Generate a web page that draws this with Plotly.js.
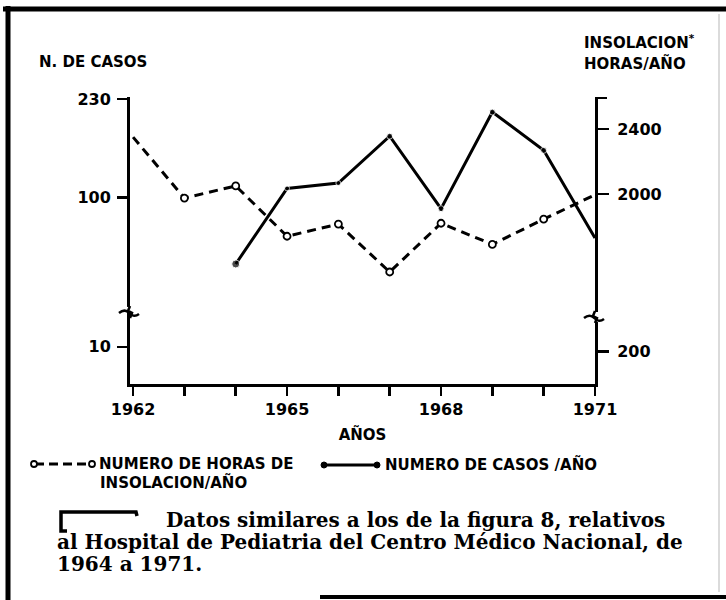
<!DOCTYPE html>
<html>
<head>
<meta charset="utf-8">
<script src="https://cdn.plot.ly/plotly-3.0.1.min.js"></script>
<style>
  html, body { margin: 0; padding: 0; background: #ffffff; }
  #chart { width: 726px; height: 600px; }
</style>
</head>
<body>
<div id="chart"></div>
<script>
// ---- data ----
const years = [1962, 1963, 1964, 1965, 1966, 1967, 1968, 1969, 1970, 1971];
// Número de horas de insolación / año (right axis)
const horasInsolacion = [2350, 1975, 2050, 1740, 1815, 1520, 1820, 1690, 1845, 1995];
// Número de casos / año (left axis, log scale), 1964-1971
const numeroCasos = [null, null, 57, 108, 113, 168, 91, 206, 149, 71];

const xTickYears = [1962, 1965, 1968, 1971];
const xTickLabels = ['1962', '1965', '1968', '1971'];
const leftTickLabels = ['10', '100', '230'];
const rightTickLabels = ['200', '2000', '2400'];

const titleLeft = 'N. DE CASOS';
const titleRight1 = 'INSOLACION<sup>*</sup>';
const titleRight2 = 'HORAS/AÑO';
const titleX = 'AÑOS';
const legendHoras1 = 'NUMERO DE HORAS DE';
const legendHoras2 = 'INSOLACION/AÑO';
const legendCasos = 'NUMERO DE CASOS /AÑO';
const caption = [
  'Datos similares a los de la figura 8, relativos',
  'al Hospital de Pediatria del Centro Médico Nacional, de',
  '1964 a 1971.'
];

// ---- layout helpers (pixel -> paper) ----
const L = 130, R = 595, T = 97, B = 384;
const px = x => (x - L) / (R - L);
const py = y => (B - y) / (B - T);

const sans = 'DejaVu Sans, Liberation Sans, sans-serif';
const serif = 'DejaVu Serif, Liberation Serif, serif';
const lblFont = { family: sans, size: 15, color: '#000', weight: 'bold' };
const tickFont = { family: sans, size: 16, color: '#000', weight: 'bold' };
const capFont = { family: serif, size: 20, color: '#000', weight: 'bold' };

const traceHoras = {
  x: years, y: horasInsolacion, yaxis: 'y2',
  type: 'scatter', mode: 'lines+markers', name: legendHoras1,
  line: { color: '#000', width: 3, dash: '9px,6px' },
  marker: { symbol: 'circle', size: [0, 7, 7, 7, 7, 7, 7, 7, 7, 0], color: '#ffffff',
            opacity: 1, line: { color: '#000', width: 1.8 } },
  cliponaxis: false, showlegend: false
};
const traceCasos = {
  x: years, y: numeroCasos, yaxis: 'y',
  type: 'scatter', mode: 'lines+markers', name: legendCasos,
  line: { color: '#000', width: 3 },
  marker: { symbol: 'circle', size: [0, 0, 8, 5, 5, 6, 6, 6, 6, 0], color: '#000' },
  connectgaps: false, cliponaxis: false, showlegend: false
};

function brk(xp, yval, yref) {
  return [
    { type: 'rect', xref: 'paper', yref: yref, xsizemode: 'pixel', ysizemode: 'pixel',
      xanchor: xp, yanchor: yval, x0: -4, x1: 4, y0: -5, y1: 5,
      fillcolor: '#fff', line: { width: 0 }, layer: 'above' },
    { type: 'path', xref: 'paper', yref: yref, xsizemode: 'pixel', ysizemode: 'pixel',
      xanchor: xp, yanchor: yval,
      path: 'M -11 -1 Q -6 3 -2 0 L 2 -3 Q 5 -5 9 -2',
      line: { color: '#000', width: 2.5 }, layer: 'above' },
    { type: 'path', xref: 'paper', yref: yref, xsizemode: 'pixel', ysizemode: 'pixel',
      xanchor: xp, yanchor: yval,
      path: 'M 0 6 L -2 1 L 2 -1 L 0 -6',
      line: { color: '#000', width: 2.5 }, layer: 'above' }
  ];
}

const shapes = [
  // page frame of the scan
  { type: 'line', xref: 'paper', yref: 'paper', x0: px(3), x1: px(726), y0: py(9), y1: py(9),
    line: { color: '#000', width: 5 } },
  { type: 'line', xref: 'paper', yref: 'paper', x0: px(8), x1: px(8), y0: py(6), y1: py(600),
    line: { color: '#000', width: 5 } },
  { type: 'line', xref: 'paper', yref: 'paper', x0: px(320), x1: px(726), y0: py(597), y1: py(597),
    line: { color: '#000', width: 4 } },
  { type: 'line', xref: 'paper', yref: 'paper', x0: px(719), x1: px(719), y0: py(14), y1: py(592),
    line: { color: '#cfcfcf', width: 1.5 } },
  // legend samples
  { type: 'line', xref: 'paper', yref: 'paper', x0: px(35), x1: px(90), y0: py(464), y1: py(464),
    line: { color: '#000', width: 3, dash: '9px,5px' } },
  { type: 'circle', xref: 'paper', yref: 'paper', x0: px(31), x1: px(37), y0: py(461), y1: py(467),
    fillcolor: '#fff', line: { color: '#000', width: 1.8 } },
  { type: 'circle', xref: 'paper', yref: 'paper', x0: px(89), x1: px(95), y0: py(461), y1: py(467),
    fillcolor: '#fff', line: { color: '#000', width: 1.8 } },
  { type: 'line', xref: 'paper', yref: 'paper', x0: px(324), x1: px(377), y0: py(465), y1: py(465),
    line: { color: '#000', width: 3 } },
  { type: 'circle', xref: 'paper', yref: 'paper', x0: px(321), x1: px(327), y0: py(462), y1: py(468),
    fillcolor: '#000', line: { color: '#000', width: 1 } },
  { type: 'circle', xref: 'paper', yref: 'paper', x0: px(374), x1: px(380), y0: py(462), y1: py(468),
    fillcolor: '#000', line: { color: '#000', width: 1 } },
  // caption bracket mark
  { type: 'path', xref: 'paper', yref: 'paper',
    path: `M ${px(67)} ${py(531)} L ${px(61)} ${py(531)} L ${px(61)} ${py(512)} L ${px(136)} ${py(512)} L ${px(137)} ${py(516)}`,
    line: { color: '#000', width: 3.5 } },
  // axis-break marks
  ...brk(0, 38, 'y'),
  ...brk(1, 1243, 'y2')
];

const annotations = [
  { text: titleLeft, x: px(37), y: py(62), font: lblFont },
  { text: titleRight1, x: px(582), y: py(42), font: lblFont },
  { text: titleRight2, x: px(582), y: py(63), font: lblFont },
  { text: legendHoras1, x: px(97), y: py(464), font: lblFont },
  { text: legendHoras2, x: px(98), y: py(482), font: lblFont },
  { text: legendCasos, x: px(383), y: py(464), font: lblFont },
  { text: caption[0], x: px(164), y: py(520), font: capFont },
  { text: caption[1], x: px(55), y: py(542), font: capFont },
  { text: caption[2], x: px(55), y: py(564), font: capFont }
].map(a => Object.assign({ xref: 'paper', yref: 'paper', xanchor: 'left', yanchor: 'middle',
                           showarrow: false, align: 'left' }, a));

const layout = {
  width: 726, height: 600,
  margin: { l: L, r: 726 - R, t: T, b: 600 - B, pad: 0 },
  paper_bgcolor: '#fff', plot_bgcolor: '#fff',
  showlegend: false,
  xaxis: {
    range: [1961.94, 1971], showgrid: false, zeroline: false,
    showline: true, linecolor: '#000', linewidth: 3,
    ticks: 'outside', ticklen: 9, tickwidth: 2.5, tickcolor: '#000',
    tickmode: 'array', tickvals: xTickYears, ticktext: xTickLabels, tickfont: tickFont,
    ticklabelstandoff: 0,
    minor: { tickmode: 'array', tickvals: years, ticks: 'outside', ticklen: 9, tickwidth: 2.5,
             tickcolor: '#000', showgrid: false },
    title: { text: titleX, font: lblFont, standoff: 12 }
  },
  yaxis: {
    type: 'log', range: [1.3151, 2.3691], showgrid: false, zeroline: false,
    showline: true, linecolor: '#000', linewidth: 3,
    ticks: 'outside', ticklen: 10, tickwidth: 2.5, tickcolor: '#000',
    tickmode: 'array', tickvals: [28.3, 100, 230], ticktext: leftTickLabels, tickfont: tickFont,
    ticklabelstandoff: 3
  },
  yaxis2: {
    overlaying: 'y', side: 'right', range: [830.8, 2597], showgrid: false, zeroline: false,
    showline: true, linecolor: '#000', linewidth: 3,
    ticks: 'outside', ticklen: 11, tickwidth: 2.5, tickcolor: '#000',
    tickmode: 'array', tickvals: [1030, 2000, 2400], ticktext: rightTickLabels, tickfont: tickFont,
    ticklabelstandoff: 5,
    minor: { tickmode: 'array', tickvals: [2590], ticks: 'outside', ticklen: 9, tickwidth: 2.5,
             tickcolor: '#000', showgrid: false }
  },
  shapes: shapes,
  annotations: annotations
};

Plotly.newPlot('chart', [traceHoras, traceCasos], layout, { staticPlot: true, displayModeBar: false });
</script>
</body>
</html>
